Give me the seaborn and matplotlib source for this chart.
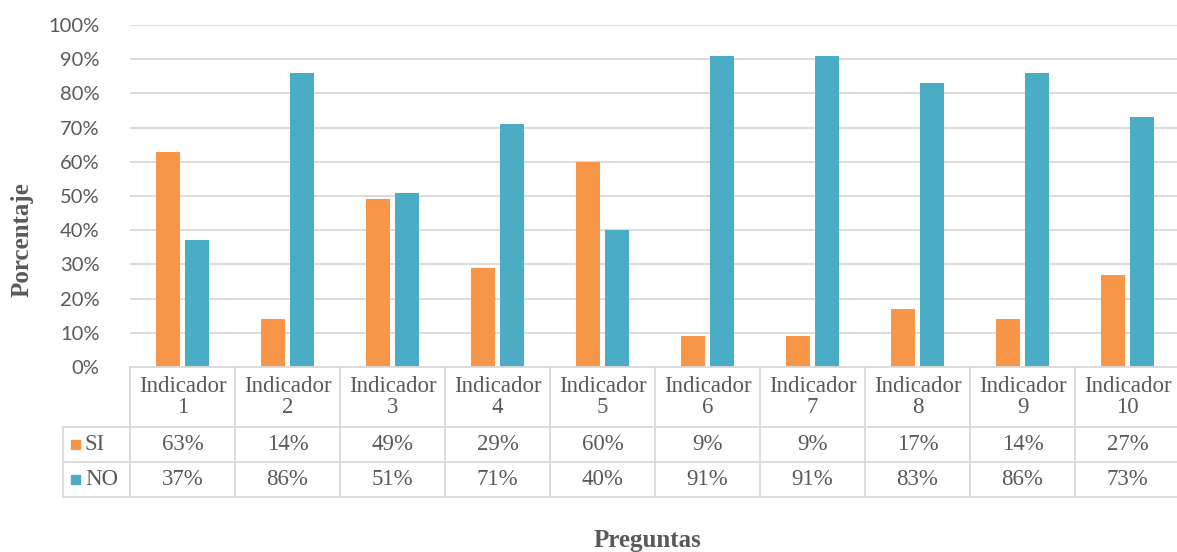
import matplotlib
matplotlib.use("Agg")
import matplotlib.pyplot as plt
from matplotlib.lines import Line2D
from matplotlib.patches import Rectangle
import seaborn as sns
import pandas as pd

categories = ["Indicador\n1", "Indicador\n2", "Indicador\n3", "Indicador\n4", "Indicador\n5",
              "Indicador\n6", "Indicador\n7", "Indicador\n8", "Indicador\n9", "Indicador\n10"]
si_values = [63, 14, 49, 29, 60, 9, 9, 17, 14, 27]
no_values = [37, 86, 51, 71, 40, 91, 91, 83, 86, 73]
series_names = ["SI", "NO"]
series_colors = ["#F79646", "#4BACC6"]
y_ticks = [0, 10, 20, 30, 40, 50, 60, 70, 80, 90, 100]

df = pd.DataFrame({
    "cat": categories * 2,
    "serie": [series_names[0]] * len(categories) + [series_names[1]] * len(categories),
    "val": si_values + no_values,
})

sns.set_theme(style="white")
plt.rcParams["font.family"] = ["Lato", "DejaVu Sans"]

W, H = 1177, 552
fig = plt.figure(figsize=(W / 100, H / 100), dpi=100)

# plot area in pixels
px_l, px_r, py_t, py_b = 130, 1180, 25, 367
ax = fig.add_axes([px_l / W, 1 - py_b / H, (px_r - px_l) / W, (py_b - py_t) / H])

grid_c = "#D9D9D9"
text_c = "#595959"

for t in y_ticks:
    ax.axhline(t, color=grid_c, lw=1.3, zorder=0)

sns.barplot(data=df, x="cat", y="val", hue="serie", order=categories,
            hue_order=series_names, palette=series_colors, width=0.57, gap=0.2,
            saturation=1, ax=ax, legend=False, zorder=3, linewidth=0)

ax.set_xlim(-0.5, len(categories) - 0.5)
ax.set_ylim(0, 100)
ax.set_yticks(y_ticks)
ax.set_yticklabels([f"{t}%" for t in y_ticks], color=text_c, fontsize=14.5)
ax.tick_params(axis="y", length=0, pad=22)
ax.set_xticks([])
ax.set_xlabel("")
ax.set_ylabel("")
for s in ax.spines.values():
    s.set_visible(False)

# ---- data table below the plot ----
def fx(px):
    return px / W

def fy(py):
    return 1 - py / H

fig.canvas.draw()
def col_px(xd):
    return ax.transData.transform((xd, 0))[0]

bounds = [col_px(i - 0.5) for i in range(len(categories) + 1)]
centers = [col_px(i) for i in range(len(categories))]

row_top, row_hdr, row_si, row_no = 367, 427, 462, 497
leg_left = 63
lw = 1.3

def hline(x0, x1, y):
    fig.add_artist(Line2D([fx(x0), fx(x1)], [fy(y), fy(y)], color=grid_c, lw=lw))

def vline(x, y0, y1):
    fig.add_artist(Line2D([fx(x), fx(x)], [fy(y0), fy(y1)], color=grid_c, lw=lw))

hline(bounds[0], bounds[-1], row_top)
for y in (row_hdr, row_si, row_no):
    hline(leg_left, bounds[-1], y)
for b in bounds:
    vline(b, row_top, row_no)
vline(leg_left, row_hdr, row_no)

serif = ["Liberation Serif", "DejaVu Serif"]
for c, lab in zip(centers, categories):
    fig.text(fx(c), fy((row_top + row_hdr) / 2), lab, ha="center", va="center",
             fontsize=16.5, family=serif, color=text_c, linespacing=1.05)

for rows, vals, name, col in ((row_hdr, si_values, series_names[0], series_colors[0]),
                              (row_si, no_values, series_names[1], series_colors[1])):
    nxt = rows + 35
    ymid = (rows + nxt) / 2
    for c, v in zip(centers, vals):
        fig.text(fx(c), fy(ymid), f"{v}%", ha="center", va="center",
                 fontsize=16.5, family=serif, color=text_c)
    fig.add_artist(Rectangle((fx(71), fy(ymid + 4.5)), 9 / W, 9 / H, color=col,
                             transform=fig.transFigure))
    fig.text(fx(85), fy(ymid), name, ha="left", va="center",
             fontsize=16.5, family=serif, color=text_c)

fig.text(fx(22), fy(240), "Porcentaje", rotation=90, ha="center", va="center",
         fontsize=18, fontweight="bold", family=serif, color=text_c)
fig.text(fx(647), fy(540), "Preguntas", ha="center", va="center",
         fontsize=18, fontweight="bold", family=serif, color=text_c)

fig.savefig("out.png", dpi=100)
